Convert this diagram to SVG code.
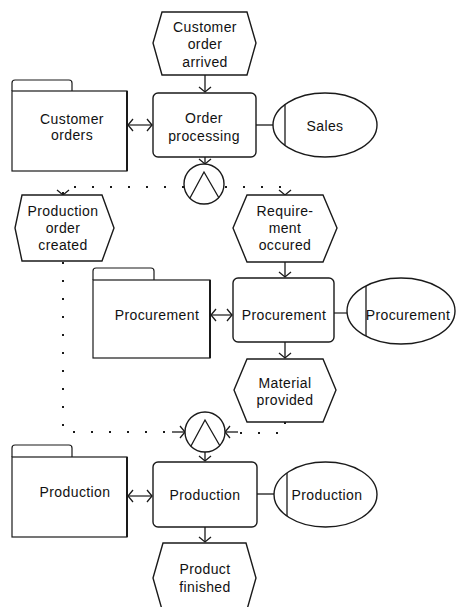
<svg xmlns="http://www.w3.org/2000/svg" width="457" height="607" viewBox="0 0 457 607">
  <style>
    .shape { fill: #fff; stroke: #1a1a1a; stroke-width: 1.4; }
    .folder { fill: #fff; stroke: #1a1a1a; stroke-width: 1.2; }
    .fold-edge { fill: none; stroke: #1a1a1a; stroke-width: 2; }
    .line { fill: none; stroke: #1a1a1a; stroke-width: 1.3; }
    .flow { fill: none; stroke: #1a1a1a; stroke-width: 1.3; marker-end: url(#arr); }
    .assoc { fill: none; stroke: #555; stroke-width: 1.6; }
    .dots { fill: none; stroke: #1a1a1a; stroke-width: 2; stroke-dasharray: 2 16; }
    .dotflow { fill: none; stroke: #1a1a1a; stroke-width: 2; stroke-dasharray: 2 16; marker-end: url(#arr); }
    .bi { fill: none; stroke: #1a1a1a; stroke-width: 1.2; marker-start: url(#arr); marker-end: url(#arr); }
    text { font-family: "Liberation Sans", Arial, sans-serif; font-size: 14px; fill: #111; text-anchor: middle; letter-spacing: 0.4px; }
  </style>
  <defs>
    <marker id="arr" viewBox="-7 -8 9 16" refX="0" refY="0" markerWidth="9" markerHeight="16" markerUnits="userSpaceOnUse" orient="auto-start-reverse">
      <path d="M-5,-6 L0,0 L-5,6" fill="none" stroke="#1a1a1a" stroke-width="1.3"/>
    </marker>
  </defs>

  <!-- control flow and information links -->
  <g id="connectors">
    <path class="flow" d="M205,75 V92"/>
    <path class="flow" d="M205,157 V164"/>
    <path class="bi" d="M128,125 H152"/>
    <path class="line" d="M256,125 H273"/>

    <path class="dotflow" d="M184,187 H63 V195"/>
    <path class="dotflow" d="M225,187 H285 V195"/>

    <path class="flow" d="M285,262 V277"/>
    <path class="bi" d="M211,315 H232"/>
    <path class="assoc" d="M334,313 H347"/>
    <path class="flow" d="M285,342 V358"/>

    <path class="dots" d="M63,262 V432 H170"/>
    <path class="flow" d="M172,432 H185"/>
    <path class="dots" d="M285,422 V433 H240"/>
    <path class="flow" d="M238,432 H225"/>

    <path class="flow" d="M205,452 V461"/>
    <path class="bi" d="M128,496 H152"/>
    <path class="line" d="M257,494 H274"/>
    <path class="flow" d="M205,527 V542"/>
  </g>

  <g id="ev-customer-order-arrived">
    <polygon class="shape" points="162,12 247,12 256,43 247,75 162,75 153,43"/>
    <text x="205" y="32">Customer</text>
    <text x="205" y="49">order</text>
    <text x="205" y="67">arrived</text>
  </g>

  <g id="folder-customer-orders">
    <path class="folder" d="M12,91 V83 Q12,80 15,80 H69 Q72,80 72,83 V91"/>
    <rect class="folder" x="12" y="91" width="115" height="80"/>
    <path class="fold-edge" d="M127,91 V171"/>
    <text x="72" y="124">Customer</text>
    <text x="72" y="140">orders</text>
  </g>

  <g id="fn-order-processing">
    <rect class="shape" x="153" y="93" width="103" height="64" rx="5"/>
    <text x="204" y="123">Order</text>
    <text x="204" y="141">processing</text>
  </g>

  <g id="org-sales">
    <ellipse class="shape" cx="325" cy="125" rx="52" ry="32"/>
    <path class="line" d="M285,104.6 V145.4" stroke-width="1.6"/>
    <text x="325" y="131">Sales</text>
  </g>

  <g id="and-split">
    <circle class="shape" cx="204" cy="184" r="20"/>
    <path class="line" d="M190,198 L204,172 L219,198"/>
  </g>

  <g id="ev-production-order-created">
    <polygon class="shape" points="22,195 102,195 114,228 102,261 22,261 15,228"/>
    <text x="63" y="216">Production</text>
    <text x="63" y="233">order</text>
    <text x="63" y="250">created</text>
  </g>

  <g id="ev-requirement-occured">
    <polygon class="shape" points="247,195 323,195 337,228 323,262 247,262 233,228"/>
    <text x="285" y="216">Require-</text>
    <text x="285" y="233">ment</text>
    <text x="285" y="250">occured</text>
  </g>

  <g id="folder-procurement">
    <path class="folder" d="M93,280 V271 Q93,268 96,268 H151 Q154,268 154,271 V280"/>
    <rect class="folder" x="93" y="280" width="117" height="78"/>
    <path class="fold-edge" d="M210,280 V358"/>
    <text x="157" y="320">Procurement</text>
  </g>

  <g id="fn-procurement">
    <rect class="shape" x="233" y="278" width="101" height="64" rx="5"/>
    <text x="284" y="320">Procurement</text>
  </g>

  <g id="org-procurement">
    <ellipse class="shape" cx="401" cy="311" rx="54" ry="33"/>
    <path class="line" d="M366,286 V336" stroke-width="1.6"/>
    <text x="408" y="320">Procurement</text>
  </g>

  <g id="ev-material-provided">
    <polygon class="shape" points="247,359 323,359 336,390 323,422 247,422 234,390"/>
    <text x="285" y="388">Material</text>
    <text x="285" y="405">provided</text>
  </g>

  <g id="and-join">
    <circle class="shape" cx="205" cy="432" r="20"/>
    <path class="line" d="M191,446 L205,420 L220,446"/>
  </g>

  <g id="folder-production">
    <path class="folder" d="M12,457 V448 Q12,445 15,445 H69 Q72,445 72,448 V457"/>
    <rect class="folder" x="12" y="457" width="115" height="80"/>
    <path class="fold-edge" d="M127,457 V537"/>
    <text x="75" y="497">Production</text>
  </g>

  <g id="fn-production">
    <rect class="shape" x="153" y="462" width="104" height="65" rx="5"/>
    <text x="205" y="500">Production</text>
  </g>

  <g id="org-production">
    <ellipse class="shape" cx="325.5" cy="494.5" rx="51.5" ry="32.5"/>
    <path class="line" d="M287,473 V516" stroke-width="1.6"/>
    <text x="327" y="500">Production</text>
  </g>

  <g id="ev-product-finished">
    <polygon class="shape" points="163,543 246,543 256,578 246,613 163,613 153,578"/>
    <text x="205" y="574">Product</text>
    <text x="205" y="592">finished</text>
  </g>
</svg>
